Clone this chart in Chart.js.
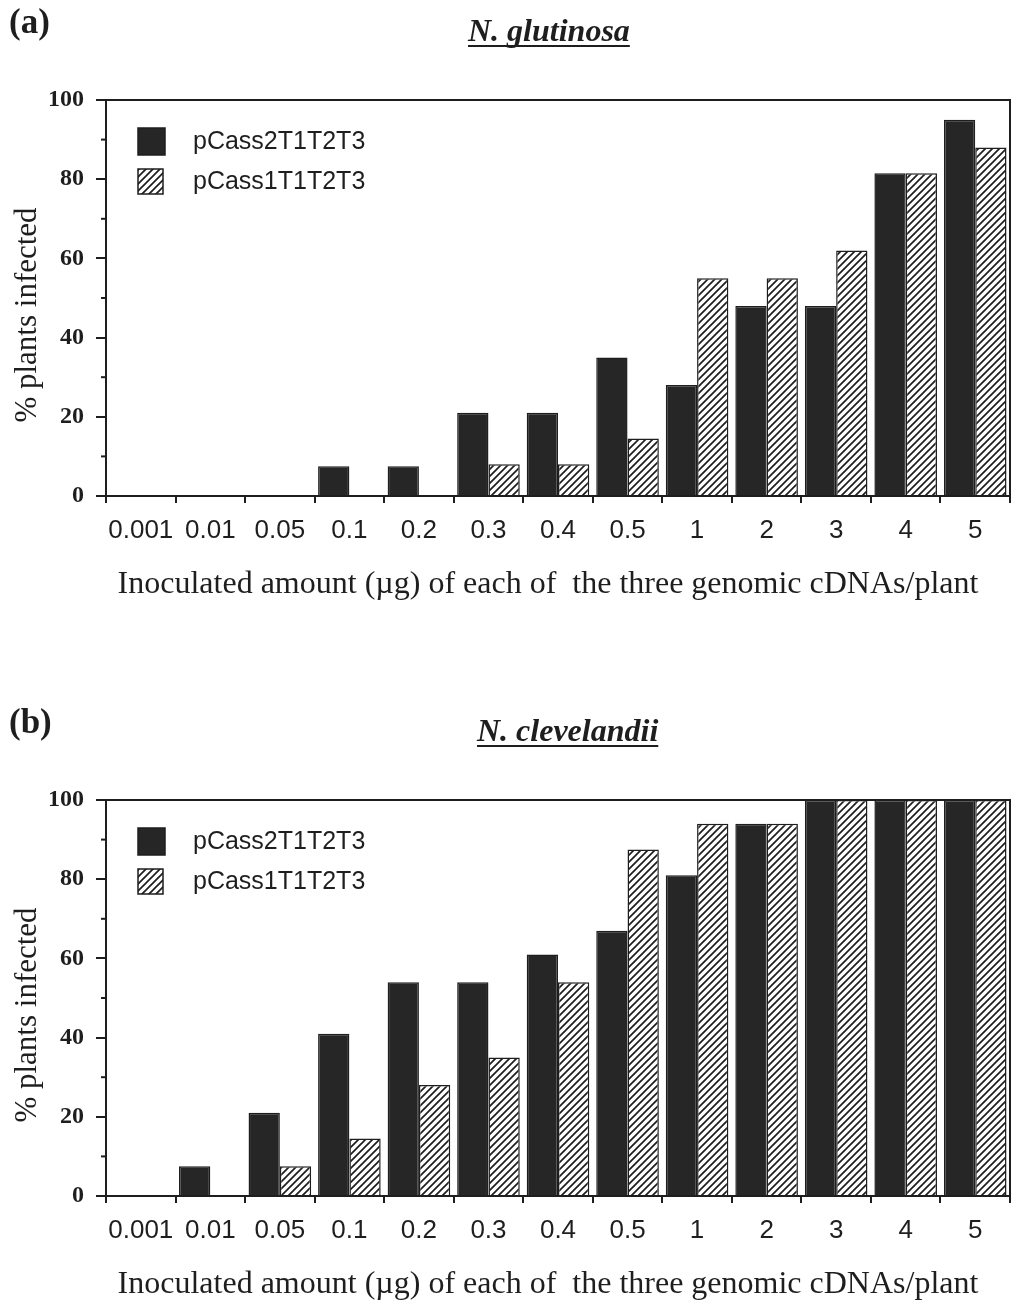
<!DOCTYPE html>
<html>
<head>
<meta charset="utf-8">
<script src="https://cdn.jsdelivr.net/npm/chart.js@4.4.0/dist/chart.umd.min.js"></script>
<style>
  body { margin: 0; background: #fff; width: 1014px; height: 1304px; position: relative; overflow: hidden; }
  canvas { position: absolute; left: 0; }
  #chartA { top: 0; }
  #chartB { top: 700px; }
</style>
</head>
<body>
<canvas id="chartA" width="1014" height="604"></canvas>
<canvas id="chartB" width="1014" height="604"></canvas>
<script>
// inoculated amount (ug) per plant
var doses = ['0.001', '0.01', '0.05', '0.1', '0.2', '0.3', '0.4', '0.5', '1', '2', '3', '4', '5'];
var seriesNames = ['pCass2T1T2T3', 'pCass1T1T2T3'];
var yTicks = [0, 20, 40, 60, 80, 100];

// % plants infected, N. glutinosa
var glutinosaT2 = [0, 0, 0, 7.5, 7.5, 21, 21, 35, 28, 48, 48, 81.5, 95];
var glutinosaT1 = [0, 0, 0, 0, 0, 8, 8, 14.5, 55, 55, 62, 81.5, 88];

// % plants infected, N. clevelandii
var clevelandiiT2 = [0, 7.5, 21, 41, 54, 54, 61, 67, 81, 94, 100, 100, 100];
var clevelandiiT1 = [0, 0, 7.5, 14.5, 28, 35, 54, 87.5, 94, 94, 100, 100, 100];

var INK = '#1e1e1e';
var SERIF = '"Liberation Serif", "DejaVu Serif", serif';
var SANS = '"Liberation Sans", Arial, sans-serif';

function hatchPattern() {
  var c = document.createElement('canvas');
  c.width = 7; c.height = 7;
  var g = c.getContext('2d');
  g.fillStyle = '#fff';
  g.fillRect(0, 0, 7, 7);
  g.strokeStyle = INK;
  g.lineWidth = 1.7;
  g.beginPath();
  g.moveTo(-1, 8); g.lineTo(8, -1);
  g.moveTo(-1, 1); g.lineTo(1, -1);
  g.moveTo(6, 8); g.lineTo(8, 6);
  g.stroke();
  return g.createPattern(c, 'repeat');
}

var panelDecor = {
  id: 'panelDecor',
  afterDraw: function(chart, args, opts) {
    var ctx = chart.ctx;
    var a = chart.chartArea;
    var y = chart.scales.y;
    ctx.save();

    // top and right frame lines
    ctx.strokeStyle = INK;
    ctx.lineWidth = 2;
    ctx.beginPath();
    ctx.moveTo(a.left, a.top);
    ctx.lineTo(a.right, a.top);
    ctx.lineTo(a.right, a.bottom);
    ctx.stroke();

    // minor ticks on y axis
    [10, 30, 50, 70, 90].forEach(function(v) {
      var py = y.getPixelForValue(v);
      ctx.beginPath();
      ctx.moveTo(a.left - 5, py);
      ctx.lineTo(a.left, py);
      ctx.stroke();
    });

    // legend
    var boxes = [{ y: 128, s: 27, ty: 142 }, { y: 169, s: 25, ty: 182 }];
    chart.data.datasets.forEach(function(ds, i) {
      var b = boxes[i];
      ctx.fillStyle = ds.backgroundColor;
      ctx.fillRect(138, b.y, b.s, b.s);
      ctx.lineWidth = 1.5;
      ctx.strokeStyle = INK;
      ctx.strokeRect(138, b.y, b.s, b.s);
      ctx.fillStyle = INK;
      ctx.font = '25px ' + SANS;
      ctx.textAlign = 'left';
      ctx.textBaseline = 'middle';
      ctx.fillText(ds.label, 193, b.ty);
    });

    // panel letter
    ctx.fillStyle = INK;
    ctx.textBaseline = 'alphabetic';
    ctx.font = 'bold 35px ' + SERIF;
    ctx.fillText(opts.letter, 9, 33);

    // species title, underlined
    ctx.font = 'italic bold 32px ' + SERIF;
    ctx.fillText(opts.title, opts.titleX, 41);
    var w = ctx.measureText(opts.title).width;
    ctx.lineWidth = 2.2;
    ctx.beginPath();
    ctx.moveTo(opts.titleX, 46);
    ctx.lineTo(opts.titleX + w, 46);
    ctx.stroke();

    // x axis title
    ctx.font = '32px ' + SERIF;
    ctx.textAlign = 'center';
    ctx.fillText('Inoculated amount (\u00b5g) of each of  the three genomic cDNAs/plant', 548, 593);

    // y axis title
    ctx.translate(36, 315);
    ctx.rotate(-Math.PI / 2);
    ctx.font = '31px ' + SERIF;
    ctx.fillText('% plants infected', 0, 0);

    ctx.restore();
  }
};

function makeChart(id, letter, title, titleX, blackVals, hatchVals) {
  return new Chart(document.getElementById(id), {
    type: 'bar',
    data: {
      labels: doses,
      datasets: [{
        label: seriesNames[0],
        data: blackVals,
        backgroundColor: '#262626',
        borderColor: INK,
        borderWidth: 1.5,
        categoryPercentage: 0.9,
        barPercentage: 1.0
      }, {
        label: seriesNames[1],
        data: hatchVals,
        backgroundColor: hatchPattern(),
        borderColor: INK,
        borderWidth: 1.5,
        categoryPercentage: 0.9,
        barPercentage: 1.0
      }]
    },
    options: {
      responsive: false,
      animation: false,
      layout: { padding: { top: 100, right: 4, left: 0, bottom: 0 } },
      plugins: {
        legend: { display: false },
        tooltip: { enabled: false },
        panelDecor: { letter: letter, title: title, titleX: titleX }
      },
      scales: {
        x: {
          afterFit: function(s) { s.height = 108; },
          grid: { offset: true, drawOnChartArea: false, tickLength: 7, color: INK, lineWidth: 2 },
          border: { display: true, color: INK, width: 2 },
          ticks: { color: INK, font: { family: SANS, size: 26 }, padding: 12, maxRotation: 0, autoSkip: false }
        },
        y: {
          min: 0, max: 100,
          afterFit: function(s) { s.width = 106; },
          afterBuildTicks: function(s) { s.ticks = yTicks.map(function(v) { return { value: v }; }); },
          grid: { drawOnChartArea: false, tickLength: 10, color: INK, lineWidth: 2 },
          border: { display: true, color: INK, width: 2 },
          ticks: { color: INK, font: { family: SERIF, size: 24, weight: 'bold' }, padding: 12 }
        }
      }
    },
    plugins: [panelDecor]
  });
}

makeChart('chartA', '(a)', 'N. glutinosa', 468, glutinosaT2, glutinosaT1);
makeChart('chartB', '(b)', 'N. clevelandii', 477, clevelandiiT2, clevelandiiT1);
</script>
</body>
</html>
